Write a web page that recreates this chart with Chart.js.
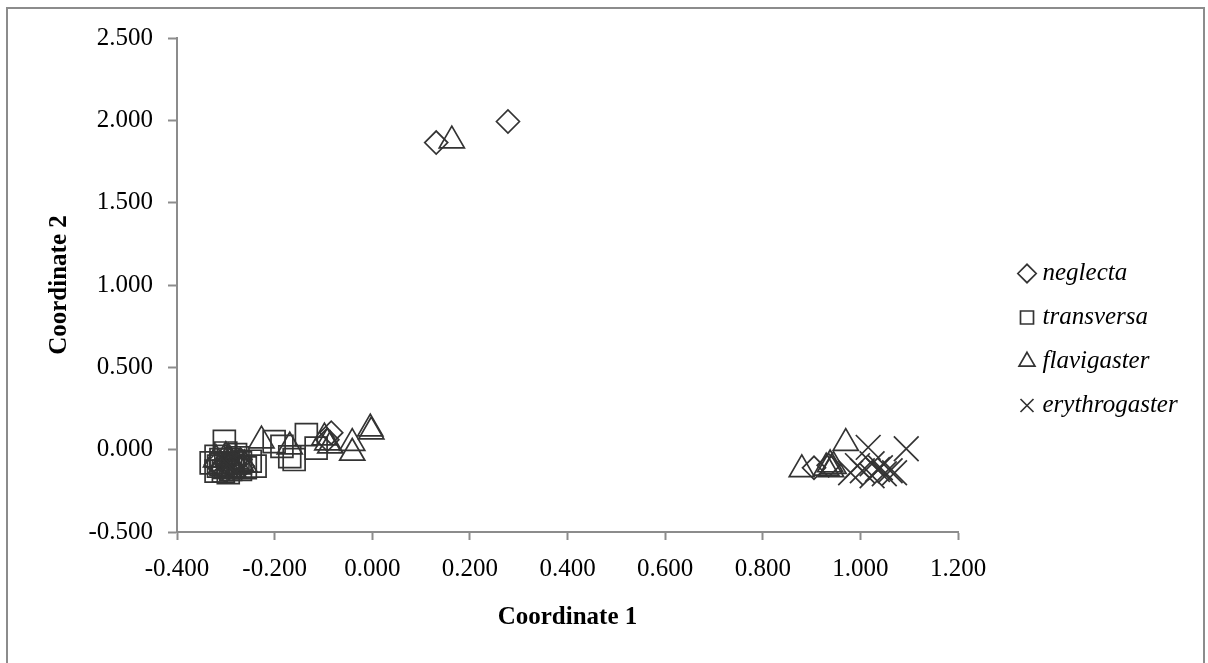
<!DOCTYPE html>
<html>
<head>
<meta charset="utf-8">
<script src="https://cdn.jsdelivr.net/npm/chart.js@4.4.1/dist/chart.umd.min.js"></script>
<style>
  html, body { margin: 0; padding: 0; background: #fff; }
  #wrap { position: relative; width: 1208px; height: 663px; overflow: hidden; }
  #frame { position: absolute; left: 6px; top: 7px; width: 1199px; height: 720px; border: 2px solid #8c8c8c; box-sizing: border-box; }
  canvas { position: absolute; left: 0; top: 0; }
</style>
</head>
<body>
<div id="wrap">
  <div id="frame"></div>
  <canvas id="chart" width="1208" height="663"></canvas>
</div>
<script>
// values
const seriesNames = ['neglecta', 'transversa', 'flavigaster', 'erythrogaster'];

const neglectaX = [0.131, 0.278, -0.084, -0.092, -0.300, -0.285, -0.270, -0.310, -0.290, -0.265,
                   -0.300, -0.280, -0.320, 0.905, 0.935];
const neglectaY = [1.865, 1.993, 0.103, 0.060, -0.080, -0.110, -0.060, -0.110, -0.090, -0.100,
                   -0.130, -0.070, -0.090, -0.110, -0.095];

const transversaX = [-0.303, -0.320, -0.310, -0.295, -0.285, -0.270, -0.260, -0.250, -0.305, -0.280,
                     -0.201, -0.185, -0.169, -0.135, -0.115, -0.160, -0.330, -0.240,
                     -0.315, -0.290, -0.275, -0.300, -0.320, -0.295, -0.270, -0.310, -0.285];
const transversaY = [0.050, -0.040, -0.090, -0.060, -0.100, -0.080, -0.110, -0.070, -0.130, -0.030,
                     0.049, 0.020, -0.043, 0.091, 0.009, -0.060, -0.080, -0.100,
                     -0.100, -0.120, -0.050, -0.020, -0.130, -0.140, -0.120, -0.060, -0.080];

const flavigasterX = [0.163, -0.227, -0.169, -0.098, -0.092, -0.086, -0.041, -0.041, -0.004, -0.002,
                      -0.290, -0.275, -0.300, -0.262, -0.320, -0.285, -0.310, -0.300, -0.270, -0.295,
                      0.880, 0.930, 0.938, 0.945, 0.940, 0.970];
const flavigasterY = [1.877, 0.055, 0.018, 0.073, 0.043, 0.024, 0.040, -0.020, 0.128, 0.110,
                      -0.070, -0.100, -0.040, -0.090, -0.060, -0.120, -0.100, -0.130, -0.080, -0.050,
                      -0.120, -0.110, -0.090, -0.100, -0.120, 0.040];

const erythrogasterX = [1.016, 1.094, 0.994, 1.024, 1.041, 1.061, 1.024, 1.049, 0.980, 1.004, 1.070, 1.035];
const erythrogasterY = [0.014, 0.006, -0.097, -0.085, -0.110, -0.128, -0.158, -0.146, -0.140, -0.128, -0.140, -0.120];

const xTicks = [-0.4, 1.2, 0.2];   // min, max, step
const yTicks = [-0.5, 2.5, 0.5];

const toPoints = (xs, ys) => xs.map((x, i) => ({x, y: ys[i]}));

const ink = '#333333';
const axisGrey = '#8c8c8c';
const serif = "'Liberation Serif', 'Times New Roman', serif";

const makeSet = (label, xs, ys, style, r) => ({
  label,
  data: toPoints(xs, ys),
  pointStyle: style,
  pointRadius: r,
  pointHoverRadius: r,
  borderColor: ink,
  backgroundColor: 'rgba(0,0,0,0)',
  borderWidth: 1.7
});

// put the legend where the original has it (it clips to its own box, so widen it too)
const legendMover = {
  id: 'legendMover',
  afterLayout(chart) {
    const lg = chart.legend;
    lg.left = 1005;
    lg.right = 1206;
    lg.top = 242;
    lg.bottom = 660;
  }
};

const fmt = v => Number(v).toFixed(3);

new Chart(document.getElementById('chart').getContext('2d'), {
  type: 'scatter',
  data: {
    datasets: [
      makeSet(seriesNames[0], neglectaX, neglectaY, 'rectRot', 11.5),
      makeSet(seriesNames[1], transversaX, transversaY, 'rect', 15.5),
      makeSet(seriesNames[2], flavigasterX, flavigasterY, 'triangle', 14.5),
      makeSet(seriesNames[3], erythrogasterX, erythrogasterY, 'crossRot', 17.5)
    ]
  },
  options: {
    responsive: false,
    animation: false,
    devicePixelRatio: 1,
    layout: { padding: { top: 38, right: 190, bottom: 0, left: 0 } },
    plugins: {
      tooltip: { enabled: false },
      legend: {
        position: 'right',
        align: 'start',
        maxWidth: 60,
        labels: {
          usePointStyle: true,
          boxWidth: 6,
          boxHeight: 13,
          padding: 19,
          color: '#000',
          font: { family: serif, size: 25, style: 'italic' }
        }
      }
    },
    scales: {
      x: {
        type: 'linear',
        min: xTicks[0],
        max: xTicks[1],
        ticks: { stepSize: xTicks[2], callback: fmt, color: '#000', padding: 14,
                 maxRotation: 0, font: { family: serif, size: 25 } },
        grid: { drawOnChartArea: false, drawTicks: true, tickLength: 8, tickColor: axisGrey, tickWidth: 2 },
        border: { color: axisGrey, width: 2 },
        title: { display: true, text: 'Coordinate 1', color: '#000',
                 font: { family: serif, size: 25, weight: 'bold' }, padding: { top: 0, bottom: 30 } },
        afterFit: s => { s.height = 131; }
      },
      y: {
        type: 'linear',
        min: yTicks[0],
        max: yTicks[1],
        ticks: { stepSize: yTicks[2], callback: fmt, color: '#000', padding: 15,
                 font: { family: serif, size: 25 } },
        grid: { drawOnChartArea: false, drawTicks: true, tickLength: 9, tickColor: axisGrey, tickWidth: 2 },
        border: { color: axisGrey, width: 2 },
        title: { display: true, text: 'Coordinate 2', color: '#000',
                 font: { family: serif, size: 25, weight: 'bold' }, padding: { top: 45, bottom: 0 } },
        afterFit: s => { s.width = 177; }
      }
    }
  },
  plugins: [legendMover]
});
</script>
</body>
</html>
